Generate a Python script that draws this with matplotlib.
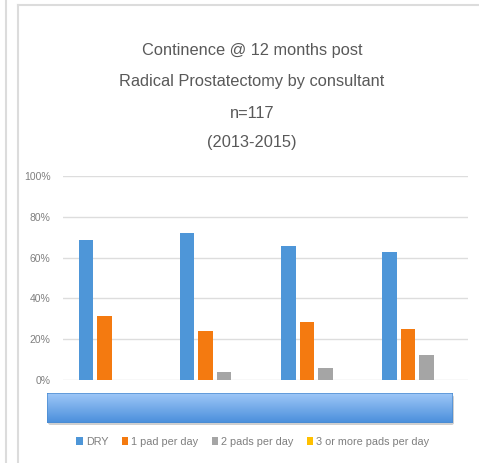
import numpy as np
import matplotlib
matplotlib.use('Agg')
import matplotlib.pyplot as plt
from matplotlib.patches import FancyBboxPatch
from matplotlib.lines import Line2D
from matplotlib.ticker import PercentFormatter

plt.rcParams['font.family'] = ['Liberation Sans', 'DejaVu Sans']

# data (category labels are hidden behind the blue bar in the original)
consultants = ['Consultant A', 'Consultant B', 'Consultant C', 'Consultant D']
series_names = ['DRY', '1 pad per day', '2 pads per day', '3 or more pads per day']
dry = [68.8, 72.0, 65.7, 62.5]
pad1 = [31.2, 24.0, 28.6, 25.0]
pad2 = [0.0, 4.0, 5.7, 12.5]
pad3 = [0.0, 0.0, 0.0, 0.0]
colors_s = ['#4E96D8', '#F47A10', '#A5A5A5', '#FFC000']

W, H = 479, 463
fig = plt.figure(figsize=(W / 100, H / 100), dpi=100)
fig.patch.set_facecolor('white')

# outer frame lines
fig.add_artist(Line2D([6 / W, 6 / W], [0, 1], color='#dcdcdc', lw=1.5))
fig.add_artist(Line2D([18 / W, 18 / W], [0, 1 - 5 / H], color='#dcdcdc', lw=1.5))
fig.add_artist(Line2D([18 / W, 1], [1 - 5 / H, 1 - 5 / H], color='#dcdcdc', lw=1.5))

# title
title_lines = ['Continence @ 12 months post', 'Radical Prostatectomy by consultant',
               'n=117', '(2013-2015)']
for ty, t in zip([50, 82, 113, 143], title_lines):
    fig.text(252 / W, 1 - ty / H, t, ha='center', va='center', fontsize=11.8, color='#595959')

ax = fig.add_axes([63 / W, 1 - 380 / H, 405 / W, 204 / H])
x = np.arange(len(consultants))
step, bw = 0.183, 0.144
for i, (vals, name, c) in enumerate(zip([dry, pad1, pad2, pad3], series_names, colors_s)):
    ax.bar(x + (i - 1.5) * step, vals, bw, color=c, label=name, zorder=3)

ax.set_xlim(-0.5, 3.5)
ax.set_ylim(0, 100)
ax.set_yticks(range(0, 101, 20))
ax.yaxis.set_major_formatter(PercentFormatter(decimals=0))
ax.set_xticks(x)
ax.set_xticklabels([])
ax.tick_params(axis='both', length=0, labelsize=7.5, labelcolor='#7f7f7f', pad=9)
ax.grid(axis='y', color='#dddddd', lw=1, zorder=0)
for s in ax.spines.values():
    s.set_visible(False)

# blue gradient bar covering the category labels
bx0, bx1, by0, by1 = 47, 453, 393, 423
shadow = FancyBboxPatch(((bx0 + 1) / W, 1 - (by1 + 2) / H), (bx1 - bx0) / W, (by1 - by0) / H,
                        boxstyle='round,pad=0,rounding_size=0.005', transform=fig.transFigure,
                        facecolor='#cfcfcf', edgecolor='none', zorder=-1)
fig.add_artist(shadow)
bax = fig.add_axes([bx0 / W, 1 - by1 / H, (bx1 - bx0) / W, (by1 - by0) / H])
bax.set_axis_off()
grad = np.linspace(0, 1, 64).reshape(-1, 1)
top = np.array([0.62, 0.78, 0.97])
bot = np.array([0.29, 0.56, 0.86])
img = top[None, None, :] * (1 - grad[:, :, None]) + bot[None, None, :] * grad[:, :, None]
im = bax.imshow(img, aspect='auto', extent=(0, 1, 0, 1))
clip = FancyBboxPatch((0, 0), 1, 1, boxstyle='round,pad=0,rounding_size=0.01',
                      transform=bax.transAxes, facecolor='none', edgecolor='#4a8bd0', lw=1)
bax.add_patch(clip)
im.set_clip_path(clip)

# legend
leg = fig.legend(loc='center', bbox_to_anchor=(253 / W, 1 - 442 / H), ncol=4, frameon=False,
                 fontsize=7.8, handlelength=0.6, handleheight=0.7, handletextpad=0.3,
                 columnspacing=1.2, labelcolor='#7f7f7f')

fig.savefig('out.png', dpi=100)
